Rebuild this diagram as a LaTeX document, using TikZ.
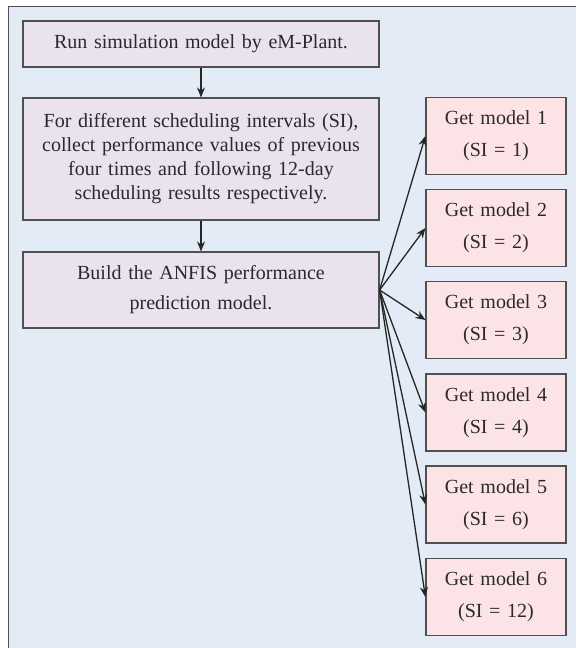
\documentclass[tikz,border=0pt]{standalone}
\usepackage{fontspec}
\setmainfont{Liberation Serif}
\usetikzlibrary{arrows.meta}
\definecolor{bgblue}{HTML}{E3EBF6}
\definecolor{lav}{HTML}{EBE2EF}
\definecolor{pinkbox}{HTML}{FCE4E6}
\definecolor{edge}{HTML}{505050}
\definecolor{txt}{HTML}{2A2A2A}
\tikzset{
  leftbox/.style={draw=edge, line width=1.2pt, fill=lav, text=txt, align=center,
    minimum width=356pt, text width=340pt, inner sep=0pt},
  rightbox/.style={draw=edge, line width=1.2pt, fill=pinkbox, text=txt, align=center,
    minimum width=140pt, minimum height=77pt, text width=130pt, inner sep=0pt,
    font=\fontsize{20}{32}\selectfont},
  arr/.style={draw=black!85, line width=1.3pt, -{Stealth[length=10pt,width=8pt]}}
}
\begin{document}
\begin{tikzpicture}[x=1pt,y=-1pt]
\useasboundingbox (0,0) rectangle (576,648);
\fill[white] (0,0) rectangle (576,648);
\fill[bgblue] (8,6) rectangle (576,648);
\draw[edge, line width=1pt] (8,648) -- (8,6) -- (576,6);

\node[leftbox, minimum height=46pt, font=\fontsize{20}{24}\selectfont] (b1) at (201,44) {Run simulation model by eM-Plant.};
\node[leftbox, minimum height=122pt, font=\fontsize{20}{24}\selectfont] (b2) at (201,159) {For different scheduling intervals (SI),\\ collect performance values of previous\\ four times and following 12-day\\ scheduling results respectively.};
\node[leftbox, minimum height=76pt, font=\fontsize{20}{30}\selectfont] (b3) at (201,290) {Build the ANFIS performance\\ prediction model.};

\node[rightbox] (m1) at (496,136) {Get model 1\\ (SI = 1)};
\node[rightbox] (m2) at (496,228) {Get model 2\\ (SI = 2)};
\node[rightbox] (m3) at (496,320) {Get model 3\\ (SI = 3)};
\node[rightbox] (m4) at (496,412.5) {Get model 4\\ (SI = 4)};
\node[rightbox] (m5) at (496,504.5) {Get model 5\\ (SI = 6)};
\node[rightbox] (m6) at (496,597) {Get model 6\\ (SI = 12)};

\draw[arr] (b1) -- (b2);
\draw[arr] (b2) -- (b3);
\coordinate (fan) at (b3.east);
\foreach \m in {m1,m2,m3,m4,m5,m6}{
  \draw[arr] (fan) -- (\m.west);
}
\end{tikzpicture}
\end{document}
